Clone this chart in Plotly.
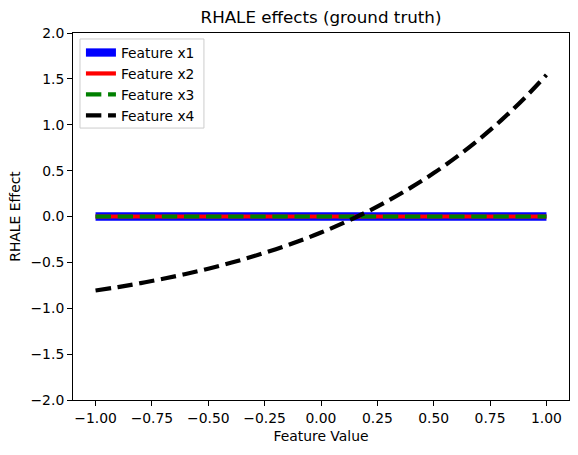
import plotly.graph_objects as go

x_const = [-1.0, -0.5, 0.0, 0.5, 1.0]
x1_vals = [0.0, 0.0, 0.0, 0.0, 0.0]
x2_vals = [0.0, 0.0, 0.0, 0.0, 0.0]
x3_vals = [0.0, 0.0, 0.0, 0.0, 0.0]

x4_x = [-1.0, -0.9, -0.8, -0.7, -0.6, -0.5, -0.4, -0.3, -0.2, -0.1, 0.0,
        0.1, 0.2, 0.3, 0.4, 0.5, 0.6, 0.7, 0.8, 0.9, 1.0]
x4_vals = [-0.807, -0.769, -0.726, -0.679, -0.626, -0.569, -0.505, -0.434, -0.356, -0.270, -0.175,
           -0.070, 0.046, 0.175, 0.317, 0.473, 0.647, 0.838, 1.050, 1.284, 1.543]

x_ticks = [-1.0, -0.75, -0.5, -0.25, 0.0, 0.25, 0.5, 0.75, 1.0]
y_ticks = [-2.0, -1.5, -1.0, -0.5, 0.0, 0.5, 1.0, 1.5, 2.0]

FONT = "DejaVu Sans"

fig = go.Figure()
fig.add_trace(go.Scatter(x=x_const, y=x1_vals, mode="lines", name="Feature x1",
                         line=dict(color="blue", width=8.3)))
fig.add_trace(go.Scatter(x=x_const, y=x2_vals, mode="lines", name="Feature x2",
                         line=dict(color="red", width=4.2)))
fig.add_trace(go.Scatter(x=x_const, y=x3_vals, mode="lines", name="Feature x3",
                         line=dict(color="green", width=4.2, dash="15.4px,6.7px")))
fig.add_trace(go.Scatter(x=x4_x, y=x4_vals, mode="lines", name="Feature x4",
                         line=dict(color="black", width=4.2, dash="15.4px,6.7px", shape="spline")))

axis_common = dict(
    showline=True, linecolor="black", linewidth=1, mirror=True,
    ticks="outside", ticklen=5, tickwidth=1, tickcolor="black",
    showgrid=False, zeroline=False,
    tickfont=dict(family=FONT, size=13.9, color="black"),
)

# legend frame drawn as a shape (matplotlib-like box)
fig.add_shape(type="rect", xref="paper", yref="paper",
              x0=0.0141, x1=0.264, y0=0.741, y1=0.9837,
              line=dict(color="#cccccc", width=1),
              fillcolor="rgba(255,255,255,0.8)", layer="above")

fig.update_layout(
    width=578, height=455,
    margin=dict(l=73, r=9, t=33, b=55),
    paper_bgcolor="white", plot_bgcolor="white",
    font=dict(family=FONT, color="black"),
    title=dict(text="RHALE effects (ground truth)", x=0.5, xref="paper",
               y=1 - 17 / 455, yref="container", yanchor="middle", xanchor="center",
               font=dict(family=FONT, size=16.7, color="black")),
    xaxis=dict(range=[-1.1, 1.1], tickvals=x_ticks, tickformat=".2f",
               title=dict(text="Feature Value", font=dict(family=FONT, size=13.9), standoff=6),
               **axis_common),
    yaxis=dict(range=[-2.0, 2.0], tickvals=y_ticks, tickformat=".1f",
               title=dict(text="RHALE Effect", font=dict(family=FONT, size=13.9), standoff=6),
               **axis_common),
    legend=dict(x=0.016, y=0.989, xanchor="left", yanchor="top",
                bgcolor="rgba(0,0,0,0)", borderwidth=0,
                font=dict(family=FONT, size=13.8), tracegroupgap=0, itemwidth=30),
    showlegend=True,
)

fig.write_html("out.html")
